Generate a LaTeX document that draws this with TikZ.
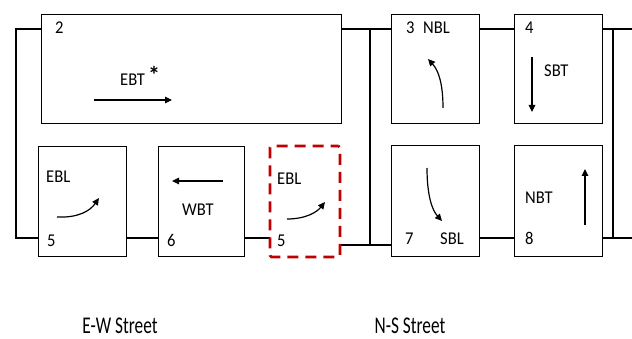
\documentclass[tikz,border=0pt]{standalone}
\usepackage{fontspec}
\usepackage{graphicx}
\setmainfont{Carlito}
\usetikzlibrary{arrows.meta}
\newcommand{\sqz}[1]{\scalebox{0.92}[1]{#1}}
\begin{document}
\begin{tikzpicture}[x=1pt,y=-1pt,
  phase/.style={draw=black,line width=0.9pt,fill=white,inner sep=0pt,minimum height=109pt},
  redphase/.style={draw={rgb,255:red,192;green,0;blue,0},line width=2.6pt,dash pattern=on 11pt off 7pt,dash phase=3pt,rounded corners=1.5pt,inner sep=0pt},
  ring/.style={line width=2pt,line cap=butt},
  mov/.style={line width=1.2pt,-{Triangle[length=7pt,width=6.5pt]}},
  lab/.style={font=\fontsize{18}{20}\selectfont,inner sep=0pt,anchor=base west},
  street/.style={font=\fontsize{24}{26}\selectfont,inner sep=0pt,text depth=0pt,anchor=base}]
\useasboundingbox (0,0) rectangle (632,339);
% coordinates for the ring lines
\coordinate (L1) at (16,29);
\coordinate (L2) at (16,238);
\coordinate (M1) at (370,29);
\coordinate (M2) at (370,245);
\coordinate (R1) at (613,29);
\coordinate (R2) at (613,238);
\coordinate (E1) at (632,29);
\coordinate (E2) at (632,238);
% ring lines (drawn first)
\draw[ring] (41,29) -- (L1) -- (L2) -- (38,238);
\draw[ring] (341,29) -- (391,29);
\draw[ring] (M1) -- (M2);
\draw[ring] (341,245) -- (391,245);
\draw[ring] (479,29) -- (514,29);
\draw[ring] (602,29) -- (E1);
\draw[ring] (R1) -- (R2);
\draw[ring] (602,238) -- (E2);
\draw[ring] (126,238) -- (158,238);
\draw[ring] (244,238) -- (270,238);
\draw[ring] (479,238) -- (514,238);
% boxes
\node[phase,minimum width=300pt] (b2) at (191,68.5) {};
\node[phase,minimum width=88pt] (b3) at (435,68.5) {};
\node[phase,minimum width=88pt] (b4) at (558,68.5) {};
\node[phase,minimum width=88pt,minimum height=110pt] (b5) at (82,201) {};
\node[phase,minimum width=86pt,minimum height=110pt] (b6) at (201,201) {};
\node[redphase,minimum width=70pt,minimum height=111pt] (b5r) at (305,201.5) {};
\node[phase,minimum width=88pt,minimum height=111pt] (b7) at (435,200.5) {};
\node[phase,minimum width=88pt,minimum height=111pt] (b8) at (558,200.5) {};
% labels
\node[lab] (t2) at (55,34) {\sqz{2}};
\node[lab] (tebt) at (120,86) {\sqz{EBT}};
\node[inner sep=0pt,font=\fontsize{24}{24}\selectfont\bfseries] (star) at (154,75) {*};
\node[lab] (tebl1) at (46,183) {\sqz{EBL}};
\node[lab] (t5a) at (47,247) {\sqz{5}};
\node[lab] (twbt) at (182,216) {\sqz{WBT}};
\node[lab] (t6) at (167,247) {\sqz{6}};
\node[lab] (tebl2) at (277,185) {\sqz{EBL}};
\node[lab] (t5b) at (277,247) {\sqz{5}};
\node[lab] (t3) at (406,34) {\sqz{3}};
\node[lab] (tnbl) at (423,34) {\sqz{NBL}};
\node[lab] (t4) at (525,34) {\sqz{4}};
\node[lab] (tsbt) at (544,77) {\sqz{SBT}};
\node[lab] (t7) at (405,245) {\sqz{7}};
\node[lab] (tsbl) at (440,245) {\sqz{SBL}};
\node[lab] (tnbt) at (525,204) {\sqz{NBT}};
\node[lab] (t8) at (525,245) {\sqz{8}};
\node[street] (ew) at (120,333) {\scalebox{0.72}[1]{E-W Street}};
\node[street] (ns) at (410,333) {\scalebox{0.72}[1]{N-S Street}};
% movement arrows
\draw[mov] (94,100) -- (172,100);
\draw[mov] (223,181) -- (172,181);
\draw[mov] (532,57) -- (532,112);
\draw[mov] (585,225) -- (585,169);
\draw[mov] (57,217) .. controls (78,218) and (90,211) .. (99,198);
\draw[mov] (287,219) .. controls (306,219) and (317,212) .. (325,202);
\draw[mov] (443,108) .. controls (443,85) and (439,71) .. (428,59);
\draw[mov] (427,168) .. controls (427,195) and (432,210) .. (442,221);
\end{tikzpicture}
\end{document}
